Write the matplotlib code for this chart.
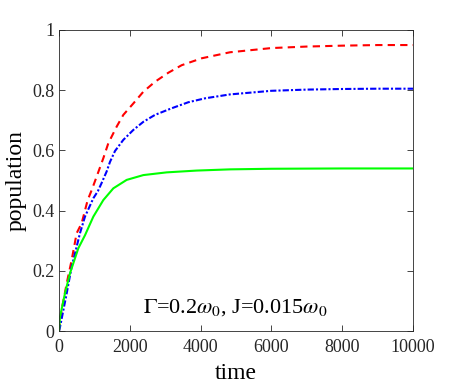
import matplotlib
matplotlib.use('Agg')
import matplotlib.pyplot as plt

# valores
t_red = [0, 75, 217, 358, 499, 640, 810, 923, 1064, 1252, 1394, 1629, 1817, 2100, 2383,
         2712, 3088, 3465, 4030, 4830, 6000, 7000, 8000, 9000, 10000]
p_red = [0, 0.07, 0.158, 0.236, 0.325, 0.358, 0.435, 0.468, 0.513, 0.574, 0.624, 0.679, 0.718,
         0.756, 0.795, 0.828, 0.858, 0.883, 0.906, 0.926, 0.940, 0.945, 0.948, 0.950, 0.950]

t_blue = [0, 30, 217, 358, 452, 593, 734, 970, 1100, 1205, 1346, 1441, 1582, 1817, 2100, 2383,
          2712, 3183, 3653, 4124, 4830, 6000, 7000, 8000, 9000, 10000]
p_blue = [0, 0.014, 0.125, 0.214, 0.258, 0.325, 0.380, 0.441, 0.465, 0.492, 0.530, 0.562, 0.598,
          0.635, 0.668, 0.695, 0.718, 0.740, 0.760, 0.773, 0.786, 0.798, 0.802, 0.804, 0.805, 0.805]

t_green = [0, 28, 169, 311, 546, 734, 970, 1252, 1535, 1911, 2383, 3041, 3889,
           4830, 6000, 8000, 10000]
p_green = [0, 0.047, 0.125, 0.192, 0.275, 0.318, 0.380, 0.435, 0.474, 0.502, 0.518, 0.527,
           0.533, 0.537, 0.539, 0.540, 0.540]

xticks = [0, 2000, 4000, 6000, 8000, 10000]
yticks = [0, 0.2, 0.4, 0.6, 0.8, 1]
ytick_labels = ['0', '0.2', '0.4', '0.6', '0.8', '1']

plt.rcParams['font.family'] = 'Liberation Serif'
plt.rcParams['mathtext.fontset'] = 'stix'

fig = plt.figure(figsize=(4.57, 3.89), dpi=100)
ax = fig.add_axes([59 / 457, 1 - 331 / 389, (413 - 59) / 457, (331 - 30) / 389])

ax.plot(t_red, p_red, color='#ff0000', linestyle=(0, (3.5, 2.5)), linewidth=1.5)
ax.plot(t_blue, p_blue, color='#0000ff', linestyle=(0, (3, 1, 1, 1)), linewidth=1.5)
ax.plot(t_green, p_green, color='#00ff00', linestyle='-', linewidth=1.5)

ax.set_xlim(0, 10000)
ax.set_ylim(0, 1)
ax.set_xticks(xticks)
ax.set_xticklabels([str(x) for x in xticks])
ax.set_yticks(yticks)
ax.set_yticklabels(ytick_labels)
ax.tick_params(direction='in', top=True, right=True, labelsize=13,
               colors='#262626', length=4, width=0.6)
ax.tick_params(axis='x', pad=6)
for s in ax.spines.values():
    s.set_color('#262626')
    s.set_linewidth(0.6)

ax.set_xlabel('time', fontsize=17, labelpad=5)
ax.set_ylabel('population', fontsize=17, labelpad=4)

ax.text(2370, 0.06, r'$\Gamma$=0.2$\omega_0$, J=0.015$\omega_0$', fontsize=16)

fig.savefig('out.png', dpi=100)
